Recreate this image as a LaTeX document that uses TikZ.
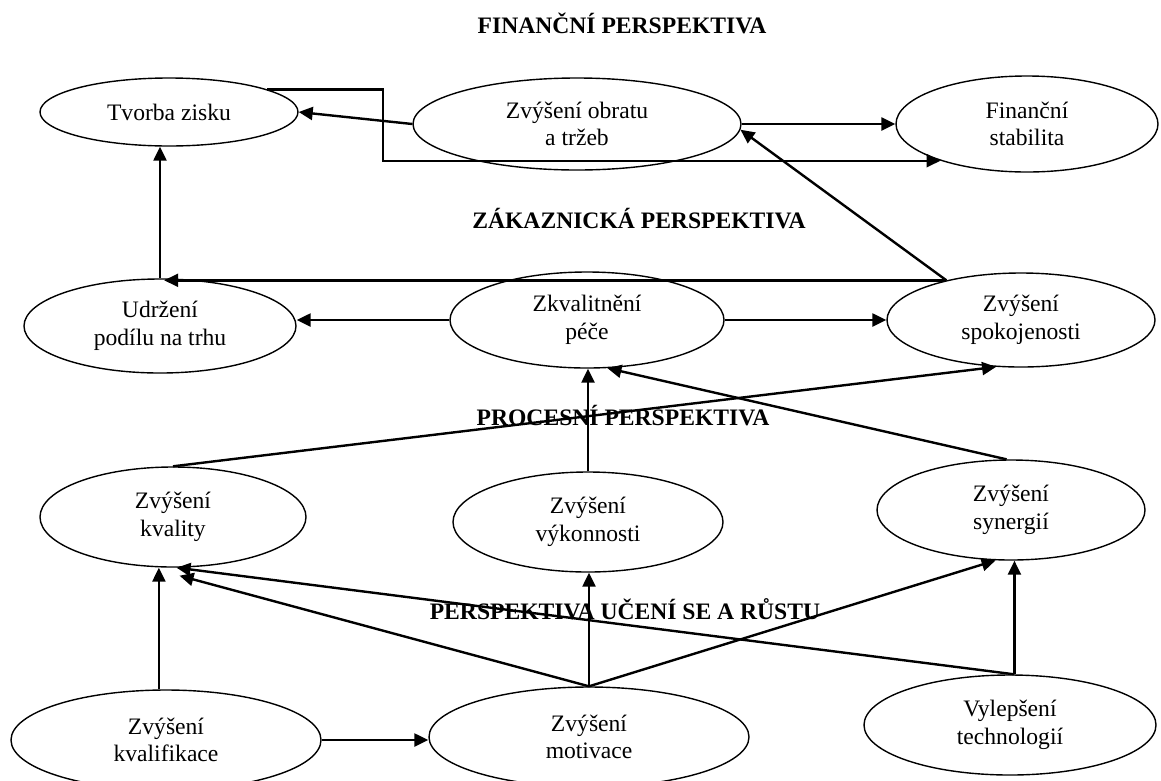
\documentclass[tikz,border=0pt]{standalone}
\usepackage{fontspec}
\setmainfont{Liberation Serif}
\usetikzlibrary{shapes.geometric,arrows.meta,calc}
\tikzset{
  ell/.style={ellipse,draw,line width=1.4pt,inner sep=0pt,align=center,
    font=\fontsize{23.6}{27.5}\selectfont},
  arr/.style={line width=2.4pt,-{Triangle[length=14pt,width=13pt]}},
  title/.style={anchor=base,inner sep=0pt,font=\fontsize{23.6}{27}\selectfont\bfseries}
}
\newcommand{\ellnode}[6]{\node[ell,minimum width=#4pt,minimum height=#5pt] (#1) at (#2,#3) {#6};}
\begin{document}
\begin{tikzpicture}[x=1pt,y=-1pt]
\useasboundingbox (0,0) rectangle (1161,780);
% titles
\node[title] (t1) at (622,33) {FINANČNÍ PERSPEKTIVA};
\node[title] (t2) at (639,228) {ZÁKAZNICKÁ PERSPEKTIVA};
\node[title] (t3) at (623,425) {PROCESNÍ PERSPEKTIVA};
\node[title] (t4) at (625,619) {PERSPEKTIVA UČENÍ SE A RŮSTU};
% ellipses
\ellnode{zisk}{169}{112}{258}{68}{Tvorba zisku}
\ellnode{obrat}{577}{124}{328}{92}{Zvýšení obratu\\ a tržeb}
\ellnode{stab}{1027}{124}{262}{96}{Finanční\\stabilita}
\ellnode{udrz}{160}{326}{272}{94}{Udržení\\podílu na trhu}
\ellnode{pece}{587}{320}{274}{96}{Zkvalitnění\\péče}
\ellnode{spok}{1021}{320}{268}{94}{Zvýšení\\spokojenosti}
\ellnode{kval}{173}{517}{266}{100}{Zvýšení\\kvality}
\ellnode{vyk}{588}{522}{270}{100}{Zvýšení\\výkonnosti}
\ellnode{syn}{1011}{510}{268}{100}{Zvýšení\\synergií}
\ellnode{kvalif}{166}{740}{310}{100}{Zvýšení\\kvalifikace}
\ellnode{motiv}{589}{737}{320}{100}{Zvýšení\\motivace}
\ellnode{tech}{1010}{725}{292}{100}{Vylepšení\\technologií}
% connectors
\coordinate (b1) at (383,130);
\draw[arr] (obrat.west) -- (zisk.east);
\draw[arr] (zisk.13) -| (b1) |- (stab.203);
\draw[arr] (obrat.east) -- (stab.west);
\draw[arr] (spok.152) -- (obrat.-2);
\draw[arr] (spok.152) -- (spok.152 -| udrz.85);
\draw[arr] (udrz.north) -- (udrz.north |- zisk.south);
\draw[arr] (pece.west) -- (pece.west -| udrz.east);
\draw[arr] (pece.east) -- (spok.west);
\draw[arr] (kval.north) -- (spok.242);
\draw[arr] (vyk.north) -- (vyk.north |- pece.south);
\draw[arr] (syn.95) -- (pece.-67);
\draw[arr] (kvalif.98) -- (kvalif.98 |- kval.south);
\draw[arr] (kvalif.east) -- (kvalif.east -| motiv.west);
\draw[arr] (motiv.north) -- (motiv.north |- vyk.south);
\draw[arr] (motiv.north) -- ($(kval.-86)+(3,8)$);
\draw[arr] (motiv.north) -- (syn.253);
\draw[arr] (tech.85) -- (kval.-86);
\draw[arr] (tech.85) -- (tech.85 |- syn.south);
\end{tikzpicture}
\end{document}
